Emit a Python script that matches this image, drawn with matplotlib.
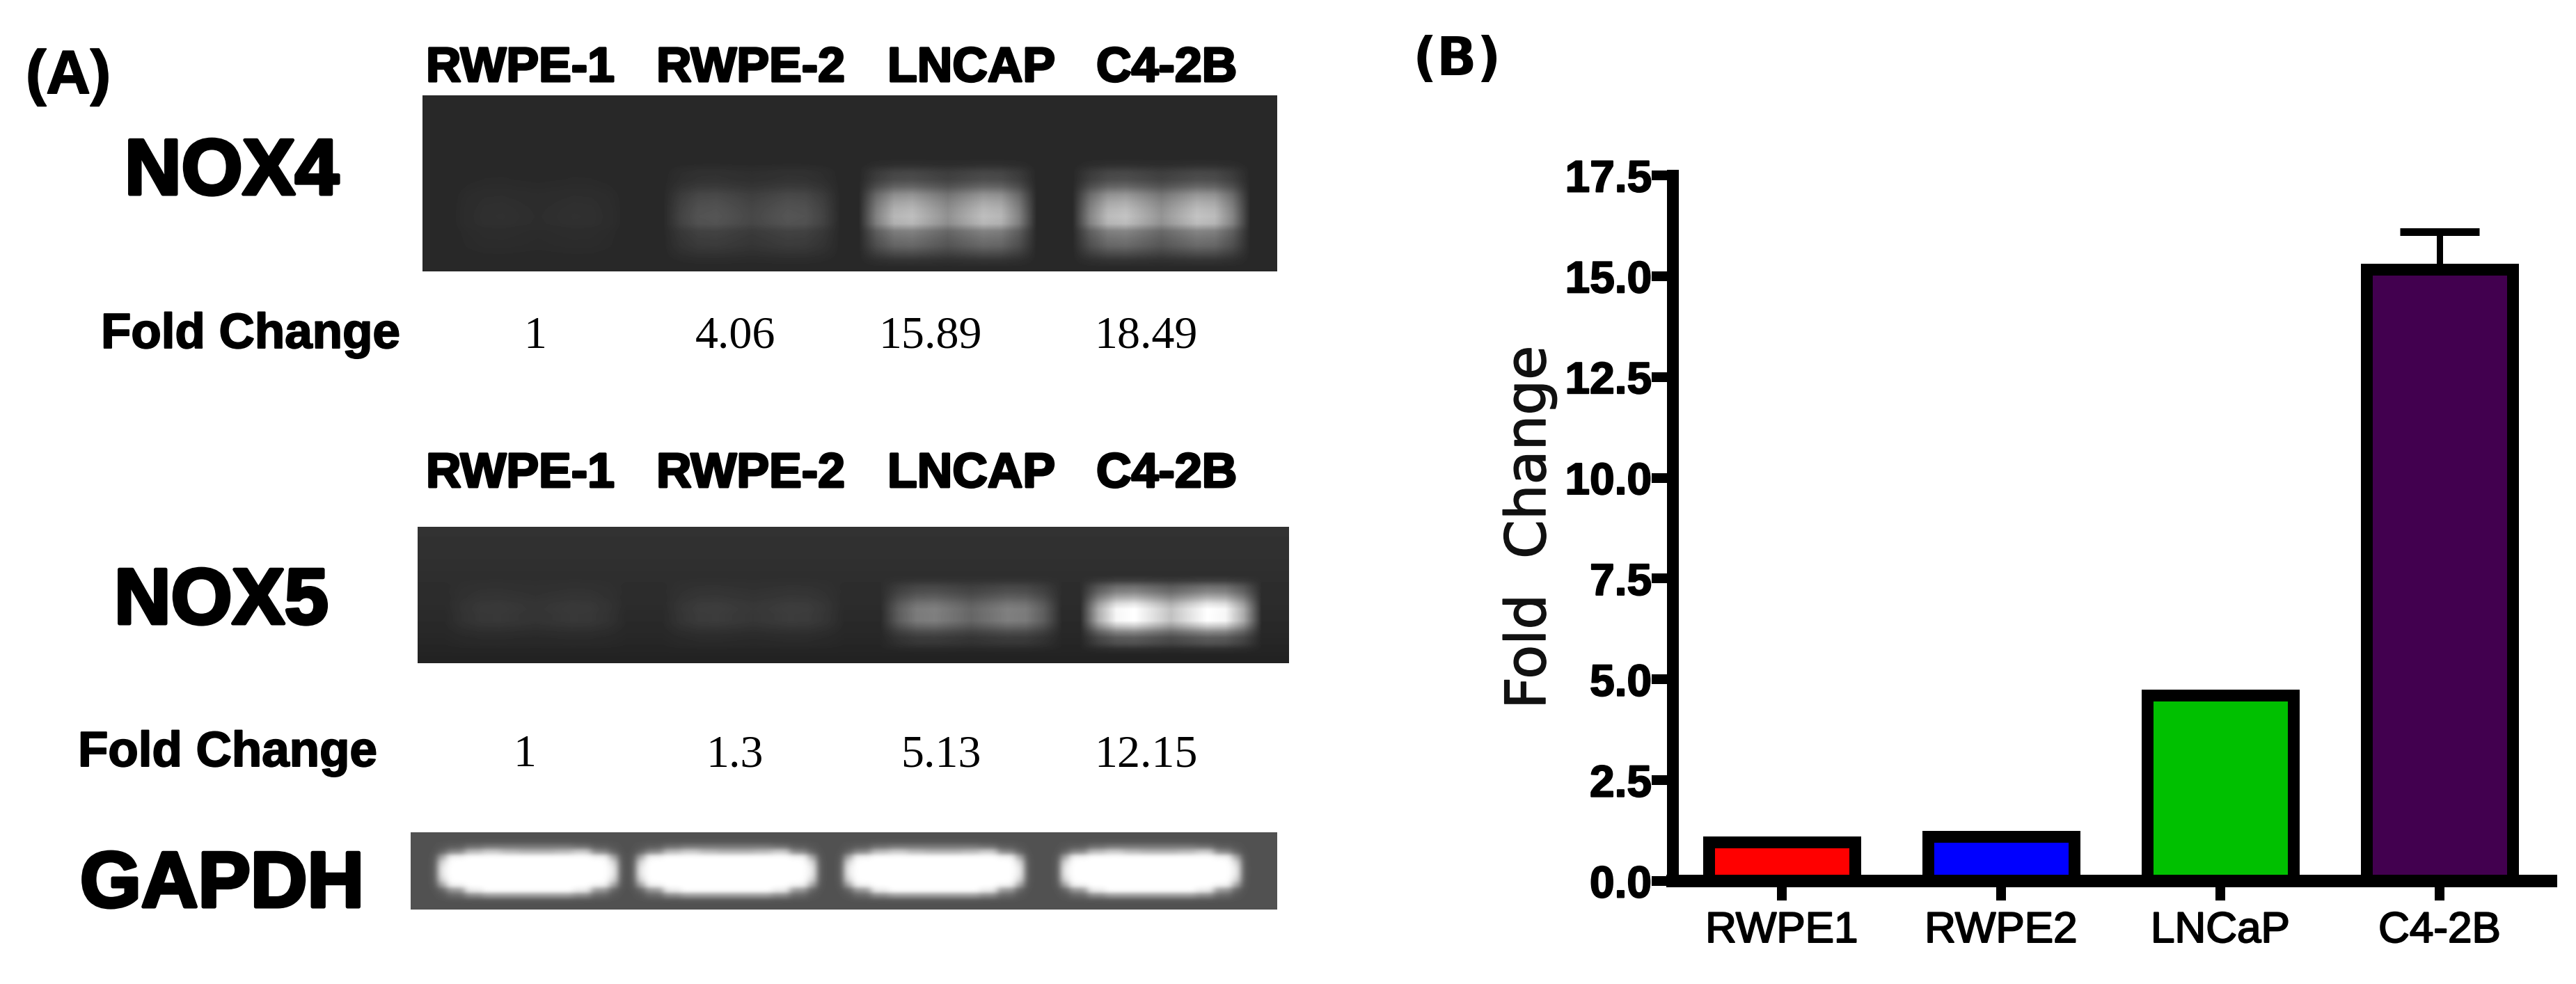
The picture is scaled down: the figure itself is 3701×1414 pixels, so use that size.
import numpy as np
import matplotlib
matplotlib.use('Agg')
import matplotlib.pyplot as plt
import matplotlib.patheffects as pe

W, H = 3701, 1414

# panel B values
cell_lines = ['RWPE1', 'RWPE2', 'LNCaP', 'C4-2B']
fold_change = [0.97, 1.1, 4.6, 15.17]
fold_err = [0, 0, 0, 0.93]
bar_colors = ['#ff0000', '#0000ff', '#00c000', '#42004f']
y_ticks = [0, 2.5, 5, 7.5, 10, 12.5, 15, 17.5]
y_tick_labels = ['0.0', '2.5', '5.0', '7.5', '10.0', '12.5', '15.0', '17.5']

# panel A labels
lane_names = ['RWPE-1', 'RWPE-2', 'LNCAP', 'C4-2B']
nox4_fold = ['1', '4.06', '15.89', '18.49']
nox5_fold = ['1', '1.3', '5.13', '12.15']

# gel brightness
nox4_peaks = [8, 45, 150, 155]
nox5_peaks = [14, 18, 85, 215]
nox4_rows = [0, 0, 0, 0, 0, 0, 0, 0, 0, .05, .2, .25, .42, .7, .85, .95, 1, .95, .6, .5, .42, .25, .08, 0]
nox5_rows = [0, 0, 0, 0, 0, 0, 0, 0, 0, .08, .3, .42, .62, .85, 1, 1, 1, .75, .45, .25, .2, .05, 0, 0]
nox5_bg = [50, 50, 49, 49, 48, 48, 47, 47, 46, 46, 45, 45, 44, 44, 43, 42, 42, 41, 40, 39, 38, 37, 35, 34]
lane_shape = [.6, .95, 1, .85, .7, .85, 1, .95, .6]
nox4_starts = [2, 14, 25, 37]
nox5_starts = [2, 14, 26, 37]
gapdh_starts = [3, 25, 48, 72]
gapdh_band = [
    [.02, .06, .15, .2, .2, .2, .2, .2, .15, .06, .02],
    [.1, .3, .6, .7, .6, .55, .55, .6, .7, .3, .1],
    [.5, .95, 1, 1, 1, 1, 1, 1, 1, .95, .5],
    [.8, 1, 1, 1, 1, 1, 1, 1, 1, 1, .8],
    [.9, 1, 1, 1, 1, 1, 1, 1, 1, 1, .9],
    [.9, 1, 1, 1, 1, 1, 1, 1, 1, 1, .9],
    [.8, 1, 1, 1, 1, 1, 1, 1, 1, 1, .8],
    [.5, .95, 1, 1, 1, 1, 1, 1, 1, .95, .5],
    [.1, .4, .9, 1, 1, 1, 1, 1, .9, .4, .1],
    [.02, .12, .3, .4, .4, .4, .4, .4, .3, .12, .02],
]

SANS = ['Liberation Sans', 'DejaVu Sans']
SERIF = ['Liberation Serif', 'DejaVu Serif']


def px(size):
    return size * 72 / 100


def thick(amount):
    return [pe.withStroke(linewidth=px(amount), foreground='black')]


def put(x, y, s, size, family=SANS, weight='bold', ha='left', stroke=0):
    t = fig.text(x / W, 1 - y / H, s, fontsize=px(size), family=family,
                 fontweight=weight, ha=ha, va='baseline', color='black')
    if stroke:
        t.set_path_effects(thick(stroke))


def box(x0, y0, x1, y1):
    return fig.add_axes([x0 / W, 1 - y1 / H, (x1 - x0) / W, (y1 - y0) / H])


def show_gel(rect, img, interp='bilinear'):
    ax = box(*rect)
    ax.imshow(np.clip(img, 0, 255), cmap='gray', vmin=0, vmax=255,
              aspect='auto', interpolation=interp)
    ax.axis('off')


def band_gel(bg, peaks, starts, rows):
    img = np.ones((len(rows), 48)) * np.array(bg).reshape(-1, 1)
    for peak, start in zip(peaks, starts):
        img[:, start:start + len(lane_shape)] += peak * np.outer(rows, lane_shape)
    return img


fig = plt.figure(figsize=(W / 100, H / 100), dpi=100, facecolor='white')

# panel A
show_gel((607, 137, 1835, 390), band_gel([40] * 24, nox4_peaks, nox4_starts, nox4_rows))
show_gel((600, 757, 1852, 953), band_gel(nox5_bg, nox5_peaks, nox5_starts, nox5_rows))

gapdh = np.full((14, 96), 82.0)
band = np.repeat(np.array(gapdh_band), 2, axis=1)[:, 1:-1]
for start in gapdh_starts:
    gapdh[2:12, start:start + 20] += band * 173
show_gel((590, 1196, 1835, 1307), gapdh, interp='gaussian')

put(37, 134, '(A)', 88, stroke=2)
put(2030, 108, '(B)', 76, family=['DejaVu Sans'])
put(179, 279, 'NOX4', 113, stroke=5)
put(164, 896, 'NOX5', 113, stroke=5)
put(115, 1303, 'GAPDH', 113, stroke=5)
put(145, 500, 'Fold Change', 71, stroke=2)
put(112, 1101, 'Fold Change', 71, stroke=2)

for y in [117, 700]:
    for x, name in zip([612, 943, 1275, 1575], lane_names):
        put(x, y, name, 70, stroke=3)

for x, s in zip([769, 1056, 1337, 1646], nox4_fold):
    put(x, 500, s, 66, family=SERIF, weight='normal', ha='center')
for x, s in zip([754, 1056, 1352, 1646], nox5_fold):
    put(x, 1101, s, 66, family=SERIF, weight='normal', ha='center')

# panel B
ax = box(2403, 252, 3665, 1266)
x = np.arange(1, 5)
ax.errorbar(x, fold_change, yerr=[[0] * 4, fold_err], fmt='none', ecolor='black',
            elinewidth=px(9), capsize=px(57), capthick=px(11), zorder=1)
ax.bar(x, fold_change, width=0.668, color=bar_colors, edgecolor='black',
       linewidth=px(17), zorder=2, clip_on=False)
ax.set_xlim(0.502, 4.508)
ax.set_ylim(0, 17.5)
ax.set_xticks(x)
ax.set_xticklabels(cell_lines, fontsize=px(62), family=SANS)
ax.set_yticks(y_ticks)
ax.set_yticklabels(y_tick_labels, fontsize=px(64), family=SANS, fontweight='bold')
ax.tick_params(axis='x', length=px(28), width=px(14), pad=px(16))
ax.tick_params(axis='y', length=px(30), width=px(14), pad=0)
for lab in ax.get_xticklabels():
    lab.set_path_effects(thick(2))
for lab in ax.get_yticklabels():
    lab.set_path_effects(thick(2))
for side in ['top', 'right']:
    ax.spines[side].set_visible(False)
ax.spines['left'].set_linewidth(px(17))
ax.spines['bottom'].set_linewidth(px(18))
ax.spines['left'].set_zorder(3)
ax.spines['bottom'].set_zorder(3)
t = fig.text(2198 / W, 1 - 758 / H, 'Fold  Change', rotation=90, fontsize=px(80),
             family=['DejaVu Sans'], ha='center', va='center', color='#111111')
t.set_path_effects([pe.withStroke(linewidth=px(1.5), foreground='#111111')])

fig.savefig('out.png', dpi=100, facecolor='white')
